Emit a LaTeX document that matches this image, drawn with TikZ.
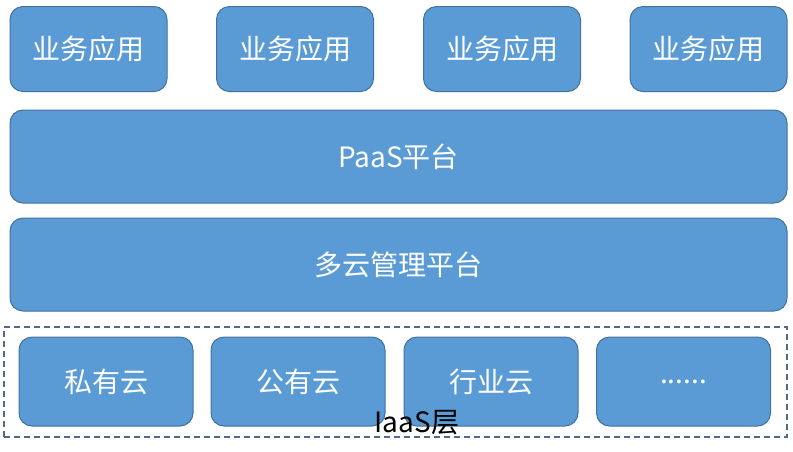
\documentclass[tikz,border=0pt]{standalone}
\usepackage{fontspec}
\setmainfont{Noto Sans CJK SC}
\usepackage{tikz}
\usetikzlibrary{positioning}
\definecolor{boxblue}{RGB}{91,155,213}
\definecolor{edgeblue}{RGB}{65,113,156}
\definecolor{dashblue}{RGB}{80,105,135}

\begin{document}
\begin{tikzpicture}[x=1pt, y=-1pt,
    layer/.style={draw=edgeblue, fill=boxblue, rounded corners=13pt, line width=1pt,
      text=white, font=\fontsize{28}{30}\selectfont, inner sep=0pt},
    app/.style={layer, minimum width=157pt, minimum height=85pt},
    cloud/.style={layer, minimum width=174pt, minimum height=89pt},
    wide/.style={layer, minimum width=777pt, minimum height=93pt}]
    \useasboundingbox (0,0) rectangle (793,451);

    % Applications
    \node[app] (app1) at (88.5,49) {业务应用};
    \node[app] (app2) at (295,49) {业务应用};
    \node[app] (app3) at (502,49) {业务应用};
    \node[app] (app4) at (708.5,49) {业务应用};

    % Plateformes
    \node[wide] (paas) at (398.5,156.5) {PaaS平台};
    \node[wide] (cmp) at (398.5,264.5) {多云管理平台};

    % IaaS
    \node[draw=dashblue, dash pattern=on 6pt off 4pt, line width=1.2pt, minimum width=783pt,
      minimum height=110pt, inner sep=0pt] (iaas) at (395.5,382) {};
    \node[cloud] (priv) at (106,381.5) {私有云};
    \node[cloud] (pub) at (298,381.5) {公有云};
    \node[cloud] (ind) at (491,381.5) {行业云};
    \node[cloud] (more) at (683.5,381.5) {......};

    \node[font=\fontsize{28}{30}\selectfont, inner sep=0pt] (iaaslabel) at (417,423) {IaaS层};
\end{tikzpicture}
\end{document}
